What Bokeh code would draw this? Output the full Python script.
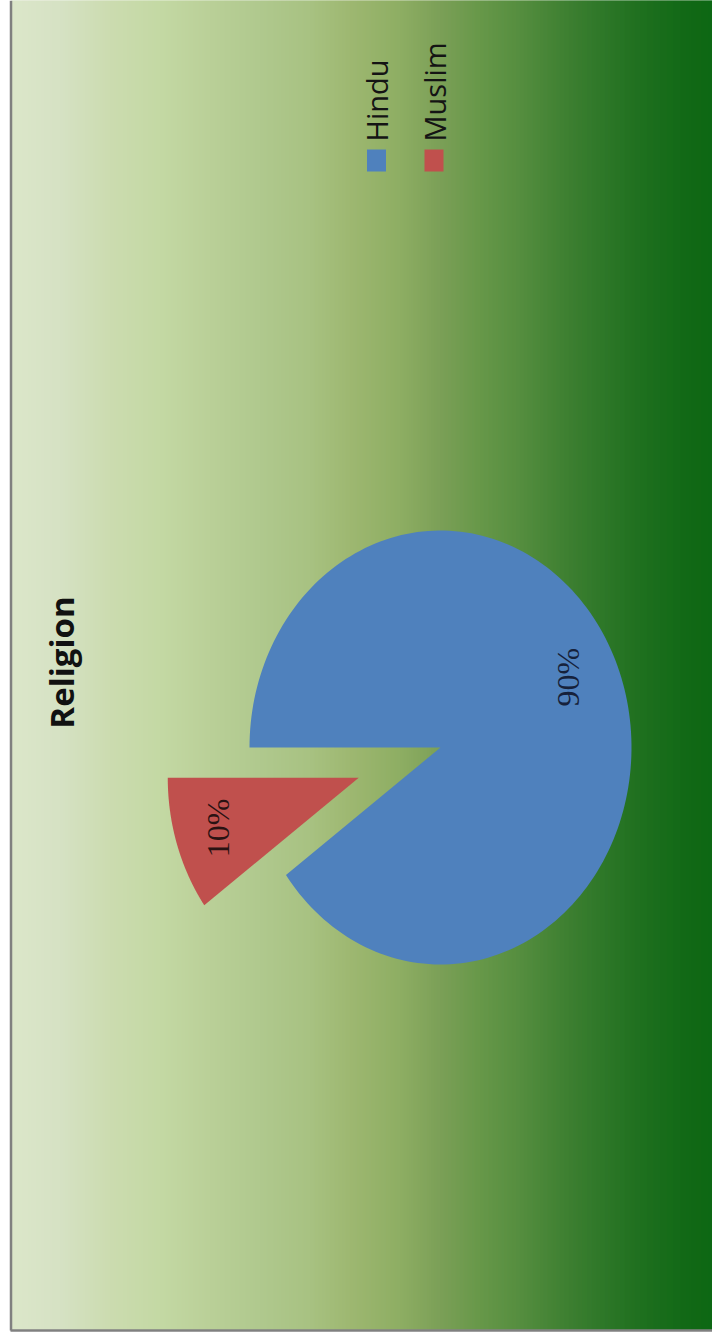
import numpy as np
from bokeh.plotting import figure
from bokeh.models import Range1d
from bokeh.core.properties import value
from bokeh.embed import file_html
from bokeh.resources import INLINE

# ---- data ----
religions = ["Hindu", "Muslim"]
shares = [90, 10]
slice_colors = ["#4f81bd", "#c0504d"]
label_colors = ["#16213b", "#2a1212"]
chart_title = "Religion"

# ---- style / layout (page pixel coordinates) ----
W, H = 712, 1341
CX, CY = 440, 747          # pie centre
RX, RY = 191, 217          # pie radii (picture is slightly stretched vertically)
START_DEG = 180.0          # first slice starts pointing left, sweeps clockwise on screen
EXPLODE = [0.0, 0.45]
LABEL_R = [0.74, 0.77]
LABEL_NUDGE_DEG = [-8.0, 0.5]

grad_stops_x = [12, 60, 110, 160, 210, 260, 310, 350, 400, 440, 480, 520, 560, 600, 640, 680, 712]
grad_stops_rgb = [(220, 231, 202), (214, 226, 196), (204, 220, 176), (196, 217, 164),
                  (186, 208, 152), (176, 201, 142), (168, 194, 130), (158, 184, 114),
                  (142, 174, 100), (124, 160, 88), (104, 152, 74), (86, 142, 64),
                  (66, 130, 52), (48, 121, 42), (32, 113, 32), (20, 107, 24), (14, 104, 20)]

p = figure(width=W, height=H, x_range=Range1d(0, W), y_range=Range1d(H, 0),
           output_backend="svg", toolbar_location=None, min_border=0)
p.axis.visible = False
p.grid.visible = False
p.outline_line_color = None
p.background_fill_color = "white"
p.border_fill_color = "white"

# background gradient
xs = np.arange(11, W)
sx = np.array(grad_stops_x, dtype=float)
rgb = np.array(grad_stops_rgb, dtype=float)
r = np.interp(xs + 0.5, sx, rgb[:, 0])
g = np.interp(xs + 0.5, sx, rgb[:, 1])
b = np.interp(xs + 0.5, sx, rgb[:, 2])
cols = ["#%02x%02x%02x" % (int(a), int(c), int(d)) for a, c, d in zip(r, g, b)]
p.quad(left=xs, right=xs + 1.5, top=np.full(len(xs), 0), bottom=np.full(len(xs), 1329),
       fill_color=cols, line_color=cols, line_width=0.5)

# frame lines
p.line([10.5, 10.5], [0, 1330], line_color="#808080", line_width=2.5)
p.line([10, W], [1330, 1330], line_color="#808080", line_width=2.5)

# pie slices
total = float(sum(shares))
angle = START_DEG
pxs, pys, lx, ly = [], [], [], []
for i, s in enumerate(shares):
    span = s / total * 360.0
    a0, a1 = angle, angle + span
    mid = np.radians((a0 + a1) / 2)
    ox = EXPLODE[i] * RX * np.cos(mid)
    oy = EXPLODE[i] * RY * np.sin(mid)
    th = np.radians(np.linspace(a0, a1, 200))
    px = np.concatenate([[CX + ox], CX + ox + RX * np.cos(th)])
    py = np.concatenate([[CY + oy], CY + oy + RY * np.sin(th)])
    pxs.append(list(px))
    pys.append(list(py))
    lm = mid + np.radians(LABEL_NUDGE_DEG[i])
    lx.append(CX + ox + LABEL_R[i] * RX * np.cos(lm))
    ly.append(CY + oy + LABEL_R[i] * RY * np.sin(lm))
    angle = a1

p.patches(pxs, pys, fill_color=slice_colors, line_color=None)

labels = ["%d%%" % s for s in shares]
p.text(x=lx, y=ly, text=labels, angle=np.pi / 2, text_color=label_colors,
       text_font=value("Liberation Serif"), text_font_size="32px",
       text_align="center", text_baseline="middle")

# title
p.text(x=[61], y=[662], text=[chart_title], angle=np.pi / 2, text_color="#111111",
       text_font=value("Open Sans"), text_font_size="33px", text_font_style="bold",
       text_align="center", text_baseline="middle")

# legend
leg_x = [376 + 57.5 * i for i in range(len(religions))]
p.rect(x=leg_x, y=[160] * len(religions), width=19, height=22,
       fill_color=slice_colors, line_color=None)
p.text(x=leg_x, y=[141] * len(religions), text=religions, angle=np.pi / 2,
       text_color="#141414", text_font=value("Open Sans"), text_font_size="29px",
       text_align="left", text_baseline="middle")

open("out.html", "w").write(file_html(p, INLINE))
